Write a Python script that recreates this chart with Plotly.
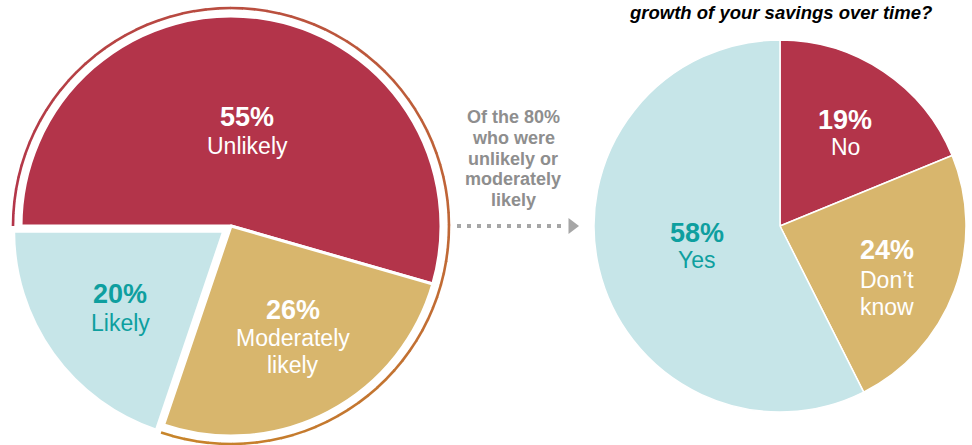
import numpy as np
import plotly.graph_objects as go

W, H = 972, 445

# ---------------- data ----------------
title_text = "growth of your savings over time?"
note_lines = ["Of the 80%", "who were", "unlikely or", "moderately", "likely"]

left_cats = ["Unlikely", "Moderately likely", "Likely"]
left_vals = [55, 26, 20]
left_label_lines = [["Unlikely"], ["Moderately", "likely"], ["Likely"]]

right_cats = ["No", "Don’t know", "Yes"]
right_vals = [19, 24, 58]
right_label_lines = [["No"], ["Don’t", "know"], ["Yes"]]

# ---------------- styles / layout geometry (pixels) ----------------
RED, GOLD, BLUE, TEAL = "#B3344A", "#D8B66D", "#C6E5E8", "#0E9F9F"
GRAY_TXT, GRAY_ARW = "#8E8E8E", "#A6A6A6"
FONT = "Liberation Sans, Arial, sans-serif"
left_colors = [RED, GOLD, BLUE]
right_colors = [RED, GOLD, BLUE]
left_txt_colors = ["white", "white", TEAL]
right_txt_colors = ["white", "white", TEAL]

L_CX, L_CY, L_R = 231, 226, 210
L_PULL = [0, 0, 0.043]
R_CX, R_CY, R_R = 780, 226, 186
RING_R = 218
left_text_pos = [(247, 117, 146), (293, 310, 338), (120, 294, 323)]
right_text_pos = [(845, 120, 147), (887, 250, 280), (697, 233, 260)]
LINE_STEP = 27
PCT_SIZE, LBL_SIZE = 27, 23


def domain(cx, cy, r, pull):
    R = r * (1 + pull)
    return dict(x=[max(0, (cx - R) / W), min(1, (cx + R) / W)],
                y=[max(0, 1 - (cy + R) / H), min(1, 1 - (cy - R) / H)])


fig = go.Figure()

fig.add_trace(go.Pie(
    values=left_vals, labels=left_cats, sort=False, direction="clockwise",
    rotation=270, pull=L_PULL,
    marker=dict(colors=left_colors, line=dict(color="white", width=3)),
    textinfo="none", hoverinfo="skip", showlegend=False,
    domain=domain(L_CX, L_CY, L_R, max(L_PULL)),
))
fig.add_trace(go.Pie(
    values=right_vals, labels=right_cats, sort=False, direction="clockwise",
    rotation=0,
    marker=dict(colors=right_colors, line=dict(color="white", width=1.5)),
    textinfo="none", hoverinfo="skip", showlegend=False,
    domain=domain(R_CX, R_CY, R_R, 0),
))

# outline ring around "unlikely" + "moderately likely" slices (gradient red -> gold)
total = sum(left_vals)
th0 = np.pi
th1 = np.pi - 2 * np.pi * (left_vals[0] + left_vals[1]) / total
N = 90
c0 = np.array([179, 52, 74])
c1 = np.array([200, 134, 42])
for i in range(N):
    a = th0 + (th1 - th0) * i / N
    b = th0 + (th1 - th0) * min(i + 1.05, N) / N
    t = (i + 0.5) / N
    c = (c0 + (c1 - c0) * t).astype(int)
    ang = np.linspace(a, b, 4)
    fig.add_trace(go.Scatter(
        x=L_CX + RING_R * np.cos(ang), y=L_CY - RING_R * np.sin(ang),
        mode="lines", line=dict(color=f"rgb({c[0]},{c[1]},{c[2]})", width=2.6),
        hoverinfo="skip", showlegend=False,
    ))

# dotted arrow
fig.add_trace(go.Scatter(
    x=[457, 562], y=[226, 226], mode="lines",
    line=dict(color=GRAY_ARW, width=4, dash="4px,6px"),
    hoverinfo="skip", showlegend=False,
))
fig.add_trace(go.Scatter(
    x=[572], y=[226], mode="markers",
    marker=dict(symbol="triangle-right", size=14, color=GRAY_ARW),
    hoverinfo="skip", showlegend=False,
))

ann = []


def add_labels(vals, lines, pos, colors):
    for v, ls, (x, py, ly), col in zip(vals, lines, pos, colors):
        ann.append(dict(x=x, y=py, xref="x", yref="y", text=f"<b>{v}%</b>",
                        showarrow=False, xanchor="center", yanchor="middle",
                        font=dict(family=FONT, size=PCT_SIZE, color=col)))
        for k, s in enumerate(ls):
            ann.append(dict(x=x, y=ly + k * LINE_STEP, xref="x", yref="y", text=s,
                            showarrow=False, xanchor="center", yanchor="middle",
                            font=dict(family=FONT, size=LBL_SIZE, color=col)))


add_labels(left_vals, left_label_lines, left_text_pos, left_txt_colors)
add_labels(right_vals, right_label_lines, right_text_pos, right_txt_colors)

for k, s in enumerate(note_lines):
    ann.append(dict(x=513, y=117 + k * 20.8, xref="x", yref="y", text=f"<b>{s}</b>",
                    showarrow=False, xanchor="center", yanchor="middle",
                    font=dict(family=FONT, size=18, color=GRAY_TXT)))

ann.append(dict(x=780, y=12, xref="x", yref="y", text=f"<b><i>{title_text}</i></b>",
                showarrow=False, xanchor="center", yanchor="middle",
                font=dict(family=FONT, size=18.5, color="black")))

fig.update_layout(
    width=W, height=H, margin=dict(l=0, r=0, t=0, b=0),
    paper_bgcolor="white", plot_bgcolor="rgba(0,0,0,0)",
    xaxis=dict(range=[0, W], visible=False, fixedrange=True, domain=[0, 1]),
    yaxis=dict(range=[H, 0], visible=False, fixedrange=True, domain=[0, 1]),
    annotations=ann, showlegend=False,
)

fig.write_html("out.html", config=dict(displayModeBar=False),
               post_script="document.body.style.margin='0px';")
